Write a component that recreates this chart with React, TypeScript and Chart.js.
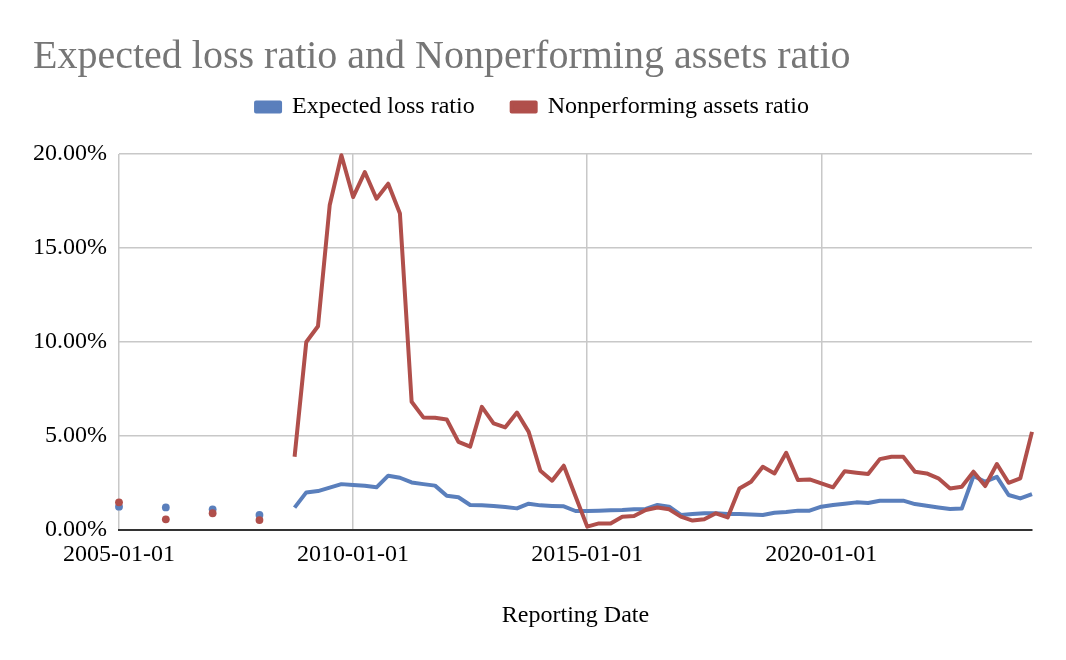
import React, { useEffect, useRef } from 'react';
import { Chart, registerables } from 'chart.js';

Chart.register(...registerables);

const TITLE = 'Expected loss ratio and Nonperforming assets ratio';
const SERIES_NAMES = ['Expected loss ratio', 'Nonperforming assets ratio'];
const X_AXIS_TITLE = 'Reporting Date';
const X_TICK_YEARS = [2005, 2010, 2015, 2020];
const Y_TICKS = [0, 5, 10, 15, 20];

// Annual observations (isolated points)
const annualDates = ['2005-01-01', '2006-01-01', '2007-01-01', '2008-01-01'];
const annualExpectedLoss = [1.24, 1.2, 1.1, 0.8];
const annualNPA = [1.47, 0.57, 0.89, 0.53];

// Quarterly observations, starting 2008-10-01
const quarterlyStart = '2008-10-01';
const quarterlyExpectedLoss = [
  1.19, 2.0, 2.07, 2.25, 2.44, 2.39, 2.35, 2.27, 2.89, 2.78,
  2.53, 2.44, 2.36, 1.82, 1.74, 1.33, 1.31, 1.28, 1.22, 1.15,
  1.4, 1.31, 1.28, 1.26, 1.01, 1.01, 1.03, 1.05, 1.06, 1.1,
  1.12, 1.33, 1.24, 0.8, 0.85, 0.89, 0.89, 0.85, 0.85, 0.83,
  0.8, 0.92, 0.96, 1.03, 1.03, 1.24, 1.33, 1.4, 1.47, 1.44,
  1.56, 1.56, 1.56, 1.38, 1.29, 1.2, 1.12, 1.14, 2.87, 2.57,
  2.83, 1.86, 1.68, 1.91,
];
const quarterlyNPA = [
  3.9, 10.0, 10.84, 17.27, 19.93, 17.71, 19.04, 17.62, 18.42, 16.83,
  6.82, 5.99, 5.97, 5.88, 4.69, 4.43, 6.55, 5.67, 5.46, 6.25,
  5.22, 3.15, 2.62, 3.42, 1.8, 0.18, 0.35, 0.35, 0.71, 0.74,
  1.06, 1.2, 1.1, 0.71, 0.5, 0.57, 0.89, 0.67, 2.21, 2.57,
  3.36, 3.01, 4.11, 2.66, 2.69, 2.48, 2.27, 3.13, 3.05, 2.98,
  3.77, 3.9, 3.9, 3.1, 3.01, 2.75, 2.21, 2.3, 3.1, 2.34,
  3.51, 2.51, 2.75, 5.22,
];

const BLUE = '#5a7fbc';
const RED = '#b04f4b';
const FONT_FAMILY = "'Liberation Serif', 'Times New Roman', serif";

function quarterDates(start: string, n: number): string[] {
  const [y, m] = start.split('-').map(Number);
  const out: string[] = [];
  for (let i = 0; i < n; i++) {
    const mm = m - 1 + 3 * i;
    out.push(`${y + Math.floor(mm / 12)}-${String((mm % 12) + 1).padStart(2, '0')}-01`);
  }
  return out;
}

function toYear(date: string): number {
  const [y, m] = date.split('-').map(Number);
  return y + (m - 1) / 12;
}

function buildSeries(annual: number[], quarterly: number[]) {
  const pts: { x: number; y: number | null }[] = [];
  annualDates.forEach((d, i) => {
    pts.push({ x: toYear(d), y: annual[i] });
    pts.push({ x: toYear(d) + 0.5, y: null });
  });
  const qd = quarterDates(quarterlyStart, quarterly.length);
  qd.forEach((d, i) => pts.push({ x: toYear(d), y: quarterly[i] }));
  return pts;
}

const hasValue = (p: any) => p && p.y !== null && p.y !== undefined;
const isolatedRadius = (ctx: any) => {
  const data = ctx.dataset.data;
  const i = ctx.dataIndex;
  return hasValue(data[i]) && !hasValue(data[i - 1]) && !hasValue(data[i + 1]) ? 3.9 : 0;
};

const legendSpacer = {
  id: 'legendSpacer',
  beforeInit(chart: any) {
    const legend = chart.legend;
    if (!legend) return;
    const orig = legend.fit;
    legend.fit = function () {
      orig.call(this);
      this.height += 25;
    };
  },
};

export default function App() {
  const canvasRef = useRef<HTMLCanvasElement | null>(null);

  useEffect(() => {
    if (!canvasRef.current) return;
    const tickFont = { family: FONT_FAMILY, size: 24, weight: 'normal' as const };
    const lastQuarter = quarterDates(quarterlyStart, quarterlyNPA.length)[quarterlyNPA.length - 1];
    const chart = new Chart(canvasRef.current, {
      type: 'line',
      data: {
        datasets: [
          {
            label: SERIES_NAMES[0],
            data: buildSeries(annualExpectedLoss, quarterlyExpectedLoss),
            borderColor: BLUE,
            backgroundColor: BLUE,
            borderWidth: 4,
            pointRadius: isolatedRadius,
            pointHoverRadius: 0,
            pointBorderWidth: 0,
            spanGaps: false,
            tension: 0,
            borderJoinStyle: 'round',
            clip: 10,
            order: 1,
          },
          {
            label: SERIES_NAMES[1],
            data: buildSeries(annualNPA, quarterlyNPA),
            borderColor: RED,
            backgroundColor: RED,
            borderWidth: 4,
            pointRadius: isolatedRadius,
            pointHoverRadius: 0,
            pointBorderWidth: 0,
            spanGaps: false,
            tension: 0,
            borderJoinStyle: 'round',
            clip: 10,
            order: 0,
          },
        ] as any,
      },
      options: {
        responsive: false,
        animation: false,
        devicePixelRatio: 1,
        layout: { padding: { left: 33, right: 34, top: 0, bottom: 0 } },
        plugins: {
          title: {
            display: true,
            text: TITLE,
            align: 'start',
            color: '#767676',
            font: { family: FONT_FAMILY, size: 40, weight: 'normal', lineHeight: 1.2 },
            padding: { top: 33, bottom: -23 },
          },
          legend: {
            display: true,
            position: 'top',
            align: 'center',
            labels: {
              boxWidth: 24,
              boxHeight: 9,
              padding: 37,
              color: '#000',
              font: tickFont,
              sort: (a: any, b: any) => a.datasetIndex - b.datasetIndex,
            },
          },
          tooltip: { enabled: false },
        },
        scales: {
          x: {
            type: 'linear',
            min: toYear(annualDates[0]),
            max: toYear(lastQuarter),
            afterBuildTicks: (s: any) => {
              s.ticks = X_TICK_YEARS.map((v) => ({ value: v }));
            },
            afterFit: (s: any) => {
              s.height = 130;
            },
            ticks: {
              callback: (v: any) => `${v}-01-01`,
              color: '#000',
              font: tickFont,
              padding: 10,
              maxRotation: 0,
              autoSkip: false,
            },
            grid: { color: '#c8c8c8', lineWidth: 1.5, drawTicks: false },
            border: { display: true, color: '#333', width: 2 },
            title: {
              display: true,
              text: X_AXIS_TITLE,
              color: '#000',
              font: tickFont,
              padding: { top: 0, bottom: 30 },
            },
          },
          y: {
            min: 0,
            max: 20,
            afterBuildTicks: (s: any) => {
              s.ticks = Y_TICKS.map((v) => ({ value: v }));
            },
            afterFit: (s: any) => {
              s.width = 86;
            },
            ticks: {
              callback: (v: any) => `${Number(v).toFixed(2)}%`,
              color: '#000',
              font: tickFont,
              padding: 12,
            },
            grid: {
              color: (ctx: any) => (ctx.tick && ctx.tick.value === 0 ? '#333' : '#c8c8c8'),
              lineWidth: (ctx: any) => (ctx.tick && ctx.tick.value === 0 ? 2 : 1.5),
              drawTicks: false,
            },
            border: { display: false },
          },
        },
      },
      plugins: [legendSpacer],
    } as any);
    return () => chart.destroy();
  }, []);

  return (
    <div style={{ position: 'fixed', left: 0, top: 0, width: 1066, height: 660, background: '#fff' }}>
      <canvas ref={canvasRef} width={1066} height={660} style={{ display: 'block' }} />
    </div>
  );
}
